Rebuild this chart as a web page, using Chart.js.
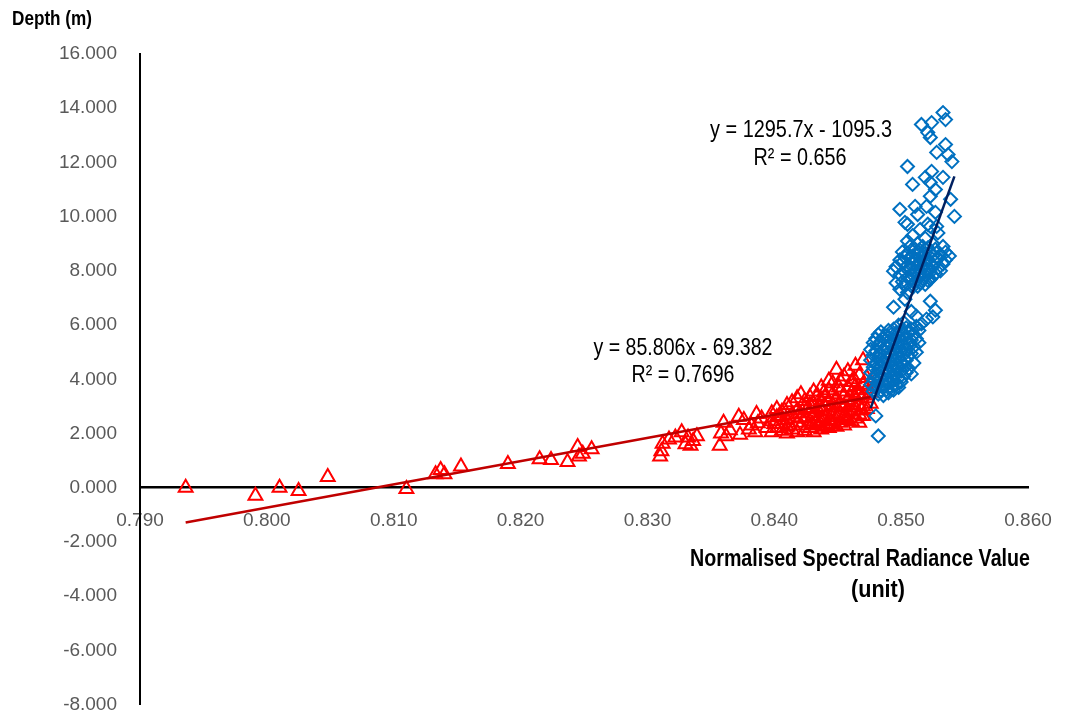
<!DOCTYPE html>
<html>
<head>
<meta charset="utf-8">
<title>Depth vs Normalised Spectral Radiance</title>
<script src="https://cdn.jsdelivr.net/npm/chart.js@4.4.1/dist/chart.umd.min.js"></script>
<style>
  html, body { margin: 0; padding: 0; background: #fff; }
  #wrap { width: 1066px; height: 718px; }
</style>
</head>
<body>
<div id="wrap"><canvas id="chart" width="1066" height="718"></canvas></div>
<script>
// axis ranges / ticks
const xMin = 0.79, xMax = 0.86, xStep = 0.01;
const yMin = -8, yMax = 16, yStep = 2;

// shallow series (red triangles)
const redX = [
  0.7936, 0.7991, 0.8010, 0.8025, 0.8048, 0.8110, 0.8133, 0.8137, 0.8140, 0.8153,
  0.8190, 0.8215, 0.8224, 0.8237, 0.8245, 0.8246, 0.8249, 0.8256,
  0.8310, 0.8311, 0.8312, 0.8317, 0.8322, 0.8327, 0.8330, 0.8332, 0.8336, 0.8339, 0.8334,
  0.8357, 0.8358, 0.8360, 0.8362, 0.8365,
  0.8372, 0.8376, 0.8373, 0.8380, 0.8385, 0.8387, 0.8390, 0.8386, 0.8382, 0.8394,
  0.8398, 0.8398, 0.8398, 0.8402, 0.8402, 0.8402, 0.8406, 0.8406, 0.8406,
  0.8410, 0.8410, 0.8410, 0.8410, 0.8414, 0.8414, 0.8414,
  0.8418, 0.8418, 0.8418, 0.8418, 0.8421, 0.8421, 0.8421,
  0.8424, 0.8424, 0.8424, 0.8424, 0.8428, 0.8428, 0.8428, 0.8428, 0.8428,
  0.8431, 0.8431, 0.8431, 0.8431, 0.8434, 0.8434, 0.8434, 0.8434,
  0.8437, 0.8437, 0.8437, 0.8437, 0.8437, 0.8440, 0.8440, 0.8440, 0.8440,
  0.8443, 0.8443, 0.8443, 0.8443, 0.8443, 0.8443, 0.8446, 0.8446, 0.8446, 0.8446, 0.8446,
  0.8449, 0.8449, 0.8449, 0.8449, 0.8449, 0.8452, 0.8452, 0.8452, 0.8452, 0.8452,
  0.8455, 0.8455, 0.8455, 0.8455, 0.8455, 0.8458, 0.8458, 0.8458, 0.8458, 0.8458,
  0.8461, 0.8461, 0.8461, 0.8461, 0.8461, 0.8464, 0.8464, 0.8464, 0.8464, 0.8464,
  0.8467, 0.8467, 0.8467, 0.8467, 0.8467, 0.8470, 0.8470, 0.8470, 0.8470, 0.8470,
  0.8473, 0.8473, 0.8473, 0.8473, 0.8476, 0.8476, 0.8476,
  0.8400, 0.8408, 0.8416, 0.8426, 0.8433, 0.8439, 0.8445, 0.8451, 0.8457, 0.8463, 0.8469,
  0.8404, 0.8412, 0.8420, 0.8430, 0.8436, 0.8442, 0.8448, 0.8454, 0.8460, 0.8466
];
const redY = [
  0.00, -0.30, 0.00, -0.12, 0.40, -0.05, 0.50, 0.65, 0.50, 0.78,
  0.88, 1.05, 1.02, 0.95, 1.50, 1.15, 1.25, 1.42,
  1.15, 1.35, 1.62, 1.78, 1.85, 2.05, 1.60, 1.85, 1.72, 1.90, 1.55,
  1.55, 2.00, 2.40, 1.90, 2.12,
  2.62, 2.50, 1.95, 2.15, 2.05, 2.38, 2.55, 2.72, 2.30, 2.20,
  2.05, 2.45, 2.75, 2.20, 2.60, 2.90, 2.10, 2.35, 2.80,
  2.00, 2.50, 3.05, 2.25, 2.15, 2.70, 3.15,
  2.05, 2.40, 2.85, 3.30, 2.30, 2.60, 3.45,
  2.10, 2.55, 2.95, 3.20, 2.20, 2.45, 2.75, 3.35, 3.05,
  2.05, 2.65, 3.10, 3.55, 2.30, 2.55, 2.90, 3.40,
  2.15, 2.45, 2.85, 3.20, 3.70, 2.25, 2.60, 3.00, 3.35,
  2.20, 2.50, 2.80, 3.15, 3.60, 3.95, 2.35, 2.70, 3.05, 3.45, 3.85,
  2.25, 2.60, 2.95, 3.30, 4.35, 2.40, 2.75, 3.10, 3.55, 3.95,
  2.30, 2.65, 3.00, 3.40, 4.10, 2.50, 2.85, 3.25, 3.70, 4.30,
  2.45, 2.80, 3.15, 3.50, 3.90, 2.55, 2.95, 3.35, 3.75, 4.50,
  2.40, 2.70, 3.05, 3.45, 4.15, 2.65, 3.00, 3.40, 3.80, 4.70,
  2.90, 3.30, 3.65, 4.05, 3.10, 3.50, 3.90,
  2.35, 2.85, 2.55, 2.90, 2.40, 3.50, 2.45, 3.70, 2.60, 4.00, 2.85,
  2.65, 2.30, 2.75, 2.35, 2.95, 2.30, 3.25, 2.55, 3.05, 3.60
];

// deep series (blue diamonds)
const blueX = [
  0.8476, 0.8476, 0.8476, 0.8476,
  0.8478, 0.8478, 0.8478, 0.8478, 0.8478,
  0.8480, 0.8480, 0.8480, 0.8480, 0.8480, 0.8480,
  0.8482, 0.8482, 0.8482, 0.8482, 0.8482, 0.8482, 0.8482,
  0.8484, 0.8484, 0.8484, 0.8484, 0.8484, 0.8484,
  0.8486, 0.8486, 0.8486, 0.8486, 0.8486, 0.8486,
  0.8488, 0.8488, 0.8488, 0.8488, 0.8488, 0.8488,
  0.8490, 0.8490, 0.8490, 0.8490, 0.8490, 0.8490, 0.8490,
  0.8492, 0.8492, 0.8492, 0.8492, 0.8492, 0.8492,
  0.8494, 0.8494, 0.8494, 0.8494, 0.8494, 0.8494, 0.8494,
  0.8496, 0.8496, 0.8496, 0.8496, 0.8496, 0.8496,
  0.8498, 0.8498, 0.8498, 0.8498, 0.8498, 0.8498, 0.8498,
  0.8500, 0.8500, 0.8500, 0.8500, 0.8500, 0.8500,
  0.8502, 0.8502, 0.8502, 0.8502, 0.8502, 0.8502,
  0.8504, 0.8504, 0.8504, 0.8504, 0.8504,
  0.8506, 0.8506, 0.8506, 0.8506, 0.8508, 0.8508, 0.8508, 0.8508,
  0.8510, 0.8510, 0.8510, 0.8512, 0.8512, 0.8512, 0.8514, 0.8514,
  0.8494, 0.8512, 0.8520, 0.8523, 0.8508, 0.8516, 0.8527, 0.8503, 0.8525,
  0.8494, 0.8496, 0.8496, 0.8499, 0.8499, 0.8499, 0.8501, 0.8501, 0.8501,
  0.8503, 0.8503, 0.8503, 0.8503, 0.8505, 0.8505, 0.8505, 0.8505, 0.8505,
  0.8507, 0.8507, 0.8507, 0.8507, 0.8509, 0.8509, 0.8509, 0.8509, 0.8509,
  0.8511, 0.8511, 0.8511, 0.8511, 0.8513, 0.8513, 0.8513, 0.8513, 0.8513,
  0.8515, 0.8515, 0.8515, 0.8515, 0.8515, 0.8517, 0.8517, 0.8517, 0.8517,
  0.8519, 0.8519, 0.8519, 0.8519, 0.8519, 0.8521, 0.8521, 0.8521, 0.8521,
  0.8523, 0.8523, 0.8523, 0.8523, 0.8523, 0.8525, 0.8525, 0.8525, 0.8525,
  0.8527, 0.8527, 0.8527, 0.8529, 0.8529, 0.8529, 0.8531, 0.8531,
  0.8533, 0.8533, 0.8535, 0.8535, 0.8538,
  0.8516, 0.8524, 0.8533, 0.8535, 0.8521, 0.8523, 0.8535, 0.8528, 0.8537, 0.8540,
  0.8505, 0.8524, 0.8519, 0.8533, 0.8509, 0.8523, 0.8527, 0.8523, 0.8539, 0.8499,
  0.8511, 0.8520, 0.8513, 0.8527, 0.8542, 0.8505, 0.8521, 0.8528
];
const blueY = [
  3.80, 4.25, 4.70, 5.10,
  3.55, 4.00, 4.45, 4.90, 5.35,
  2.65, 3.70, 4.15, 4.60, 5.05, 5.50,
  1.91, 3.45, 3.90, 4.35, 4.80, 5.25, 5.65,
  3.60, 4.05, 4.50, 4.95, 5.40, 5.75,
  3.40, 3.80, 4.20, 4.65, 5.10, 5.55,
  3.60, 4.00, 4.40, 4.80, 5.20, 5.60,
  3.50, 3.85, 4.25, 4.60, 5.00, 5.40, 5.80,
  3.70, 4.10, 4.45, 4.85, 5.25, 5.65,
  3.60, 3.95, 4.35, 4.70, 5.10, 5.45, 5.85,
  3.80, 4.20, 4.55, 4.95, 5.30, 5.70,
  3.70, 4.05, 4.45, 4.80, 5.20, 5.55, 6.00,
  3.90, 4.30, 4.65, 5.05, 5.40, 5.80,
  4.10, 4.50, 4.90, 5.25, 5.65, 6.10,
  4.25, 4.70, 5.10, 5.50, 5.90,
  4.40, 4.85, 5.30, 5.70, 4.20, 4.95, 5.45, 5.85,
  4.60, 5.20, 5.65, 5.00, 5.50, 5.95, 5.35, 5.80,
  6.66, 6.33, 6.22, 6.88, 6.50, 6.05, 6.55, 6.95, 6.30,
  7.99, 7.55, 8.15, 7.32, 7.85, 8.40, 7.60, 8.32, 8.70,
  7.45, 7.95, 8.50, 9.79, 7.20, 7.75, 8.20, 8.65, 9.10,
  7.69, 8.05, 8.45, 8.90, 7.40, 7.85, 8.25, 8.54, 9.30,
  7.60, 8.00, 8.40, 8.80, 7.43, 7.80, 8.15, 8.60, 9.00,
  7.55, 7.95, 8.30, 8.75, 9.53, 7.70, 8.10, 8.50, 8.90,
  7.50, 7.85, 8.25, 8.65, 9.20, 7.65, 8.05, 8.43, 8.85,
  7.69, 7.95, 8.30, 8.70, 9.64, 7.80, 8.15, 8.55, 9.00,
  7.90, 8.35, 8.80, 8.10, 8.45, 9.40, 8.00, 8.60,
  8.25, 8.90, 8.69, 8.40, 8.55,
  13.40, 13.47, 13.84, 13.58, 13.10, 12.92, 12.66, 12.37, 12.29, 12.03,
  11.85, 11.67, 11.45, 11.45, 11.19, 11.26, 11.00, 10.75, 10.64, 10.27,
  10.38, 10.38, 10.08, 10.16, 10.01, 9.72, 9.72, 9.64
];

// linear trendlines as printed on the chart
const redFit = { slope: 85.806, intercept: -69.382, label: 'y = 85.806x - 69.382', r2: 'R² = 0.7696' };
const blueFit = { slope: 1295.7, intercept: -1095.3, label: 'y = 1295.7x - 1095.3', r2: 'R² = 0.656' };

const FONT = "'Liberation Sans Narrow', 'Arial Narrow', 'Liberation Sans', Arial, sans-serif";

const toPoints = (xs, ys) => xs.map((x, i) => ({ x, y: ys[i] }));
const fitLine = (xs, fit) => {
  const lo = Math.min(...xs), hi = Math.max(...xs);
  return [lo, hi].map(x => ({ x, y: fit.slope * x + fit.intercept }));
};

// invisible tick marks give the label gap without inflating layout padding
const hiddenTicks = len => ({
  display: true,
  drawOnChartArea: false,
  drawTicks: true,
  tickLength: len,
  color: 'rgba(0,0,0,0)',
  tickColor: 'rgba(0,0,0,0)',
});

// equation labels + axis titles (maxWidth squeezes them to the narrow look of the original)
const textPlugin = {
  id: 'chartText',
  afterDraw(chart) {
    const ctx = chart.ctx;
    ctx.save();
    ctx.fillStyle = '#000';
    ctx.textBaseline = 'middle';

    ctx.textAlign = 'left';
    ctx.font = `bold 20px ${FONT}`;
    ctx.fillText('Depth (m)', 12, 19, 80);

    ctx.textAlign = 'center';
    ctx.font = `bold 23px ${FONT}`;
    ctx.fillText('Normalised Spectral Radiance Value', 860, 560, 340);
    ctx.fillText('(unit)', 878, 591, 54);

    ctx.font = `24px ${FONT}`;
    ctx.fillText(blueFit.label, 801, 130, 182);
    ctx.fillText(blueFit.r2, 800, 158, 93);
    ctx.fillText(redFit.label, 683, 348, 179);
    ctx.fillText(redFit.r2, 683, 375, 103);
    ctx.restore();
  }
};

new Chart(document.getElementById('chart'), {
  type: 'scatter',
  data: {
    datasets: [
      {
        label: 'Trend (deep)',
        type: 'line',
        data: fitLine(blueX, blueFit),
        borderColor: '#002060',
        borderWidth: 2.5,
        pointRadius: 0,
        showLine: true,
        order: 0,
      },
      {
        label: 'Trend (shallow)',
        type: 'line',
        data: fitLine(redX, redFit),
        borderColor: '#C00000',
        borderWidth: 2.5,
        pointRadius: 0,
        showLine: true,
        order: 0,
      },
      {
        label: 'Deep',
        data: toPoints(blueX, blueY),
        pointStyle: 'rectRot',
        pointRadius: 6.5,
        borderColor: '#0070C0',
        backgroundColor: 'rgba(255,255,255,0)',
        borderWidth: 2,
        order: 1,
      },
      {
        label: 'Shallow',
        data: toPoints(redX, redY),
        pointStyle: 'triangle',
        pointRadius: 8,
        borderColor: '#FF0000',
        backgroundColor: 'rgba(255,255,255,0)',
        borderWidth: 2,
        order: 2,
      },
    ],
  },
  options: {
    responsive: false,
    animation: false,
    layout: { padding: { left: 0, right: 38, top: 54, bottom: 12 } },
    plugins: {
      legend: { display: false },
      tooltip: { enabled: false },
    },
    scales: {
      x: {
        type: 'linear',
        position: { y: 0 },
        min: xMin,
        max: xMax,
        grid: hiddenTicks(20),
        border: { display: true, color: '#000', width: 2.5 },
        ticks: {
          stepSize: xStep,
          padding: 2,
          color: '#595959',
          font: { family: FONT, size: 19 },
          maxRotation: 0,
          callback: v => v.toFixed(3),
        },
      },
      y: {
        type: 'linear',
        position: 'left',
        min: yMin,
        max: yMax,
        afterFit: s => { s.width = 140; },
        grid: hiddenTicks(21),
        border: { display: true, color: '#000', width: 2 },
        ticks: {
          stepSize: yStep,
          padding: 2,
          color: '#595959',
          font: { family: FONT, size: 19 },
          callback: v => v.toFixed(3),
        },
      },
    },
  },
  plugins: [textPlugin],
});
</script>
</body>
</html>
